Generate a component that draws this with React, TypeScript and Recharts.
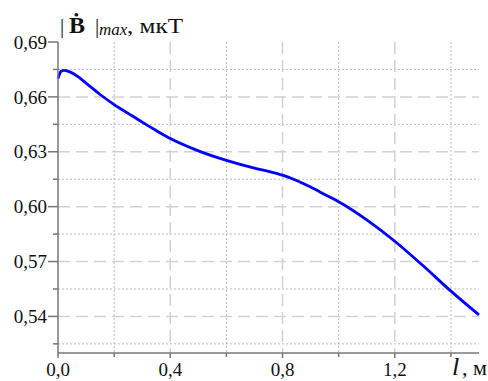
import { CartesianGrid, Line, LineChart, XAxis, YAxis } from "recharts";

const lengths = [0, 0.01, 0.02, 0.04, 0.07, 0.1, 0.15, 0.2, 0.25, 0.3, 0.35, 0.4, 0.5, 0.6, 0.7, 0.75, 0.8, 0.85, 0.9, 0.95, 1.0, 1.1, 1.2, 1.3, 1.4, 1.5];
const bMax = [0.670, 0.6738, 0.6745, 0.6738, 0.6712, 0.6675, 0.6613, 0.6558, 0.651, 0.6462, 0.6416, 0.6372, 0.6305, 0.6253, 0.6211, 0.6193, 0.6172, 0.6143, 0.6107, 0.6067, 0.6027, 0.5928, 0.5811, 0.5678, 0.5538, 0.5408];

const xMajor = [0, 0.4, 0.8, 1.2];
const xMinor = [0.2, 0.6, 1.0, 1.4];
const yMajor = [0.54, 0.57, 0.6, 0.63, 0.66, 0.69];
const yMinor = [0.525, 0.555, 0.585, 0.615, 0.645, 0.675];

const data = lengths.map((l, i) => ({ l, b: bMax[i] }));

const FONT = '"Liberation Serif", "Times New Roman", serif';
const isMajor = (list: number[], v: number) => list.some((m) => Math.abs(m - v) < 1e-6);

const YTick = (props: any) => {
  const { x, y, payload } = props;
  const major = isMajor(yMajor, payload.value);
  const len = major ? 10 : 5;
  return (
    <g>
      <line x1={x - len} x2={x} y1={y} y2={y} stroke="#777" strokeWidth={1.5} />
      {major && (
        <text x={x - len - 1} y={y} dy="0.35em" textAnchor="end" fontSize={19} fontFamily={FONT} fill="#111">
          {payload.value.toFixed(2).replace(".", ",")}
        </text>
      )}
    </g>
  );
};

const XTick = (props: any) => {
  const { x, y, payload } = props;
  const major = isMajor(xMajor, payload.value);
  const len = major ? 5 : 4;
  return (
    <g>
      <line x1={x} x2={x} y1={y} y2={y + len} stroke="#777" strokeWidth={1.5} />
      {major && (
        <text x={x} y={y + 23} textAnchor="middle" fontSize={19} fontFamily={FONT} fill="#111">
          {payload.value.toFixed(1).replace(".", ",")}
        </text>
      )}
    </g>
  );
};

export default function App() {
  return (
    <div style={{ position: "absolute", left: 0, top: 0, width: 488, height: 381, background: "#fff" }}>
      <LineChart width={488} height={381} data={data} margin={{ top: 42, right: 9, bottom: 0, left: 0 }}>
        <CartesianGrid
          horizontalValues={yMinor}
          verticalValues={xMinor}
          stroke="#bbb"
          strokeDasharray="2 2"
        />
        <CartesianGrid
          horizontalValues={yMajor.filter((v) => v < 0.69)}
          verticalValues={xMajor.filter((v) => v > 0)}
          stroke="#d2d2d2"
          strokeWidth={1.5}
          strokeDasharray="12 6"
        />
        <XAxis
          dataKey="l"
          type="number"
          domain={[0, 1.5]}
          ticks={[...xMajor, ...xMinor].sort((a, b) => a - b)}
          tick={<XTick />}
          tickSize={0}
          tickMargin={0}
          height={28}
          stroke="#777"
          strokeWidth={1.5}
          interval={0}
        />
        <XAxis xAxisId="top" orientation="top" dataKey="l" type="number" domain={[0, 1.5]} height={0} tick={false} tickLine={false} stroke="#888" />
        <YAxis
          type="number"
          domain={[0.52, 0.69]}
          ticks={[...yMajor, ...yMinor].sort((a, b) => a - b)}
          tick={<YTick />}
          tickSize={0}
          tickMargin={0}
          width={58}
          stroke="#777"
          strokeWidth={1.5}
          interval={0}
        />
        <YAxis yAxisId="right" orientation="right" type="number" domain={[0.52, 0.69]} width={0} tick={false} tickLine={false} stroke="#888" />
        <Line dataKey="b" type="monotone" stroke="#0000ff" strokeWidth={2.8} dot={false} isAnimationActive={false} />
      </LineChart>
      <svg width={488} height={381} style={{ position: "absolute", left: 0, top: 0, pointerEvents: "none" }}>
        <g fontFamily={FONT} fill="#111">
          <text x={60} y={33} fontSize={21}>|</text>
          <text x={69} y={33} fontSize={24} fontWeight="bold">Ḃ</text>
          <text x={95} y={33} fontSize={21}>|</text>
          <text x={99} y={35} fontSize={17} fontStyle="italic">max</text>
          <text x={127} y={33} fontSize={21} textLength={56} lengthAdjust="spacingAndGlyphs">, мкТ</text>
          <text x={452} y={375} fontSize={26} fontStyle="italic">l</text>
          <text x={462} y={375} fontSize={20} textLength={25} lengthAdjust="spacingAndGlyphs">, м</text>
        </g>
      </svg>
    </div>
  );
}
